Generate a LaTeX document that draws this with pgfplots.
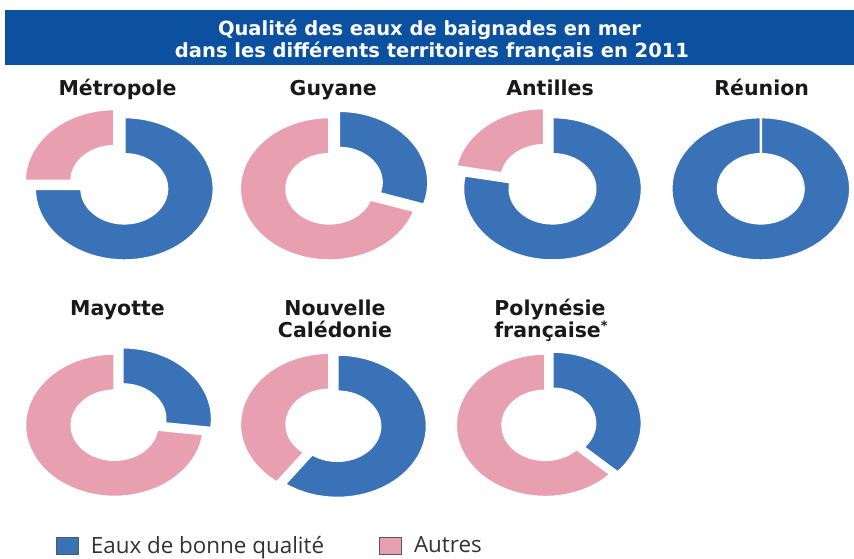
\documentclass[border=0pt]{standalone}
\usepackage{pgfplots}
\pgfplotsset{compat=1.18}
\usepackage{fontspec}
\setmainfont{Open Sans}
\newfontfamily\dejavu{DejaVu Sans}
\definecolor{banner}{RGB}{12,80,160}
\definecolor{dblue}{RGB}{58,114,184}
\definecolor{dpink}{RGB}{232,160,177}
\definecolor{legtext}{RGB}{50,50,50}
% ring radii (pixels); outline is white, 2.4pt wide
\def\OutX{89.5}\def\OutY{71.7}\def\InX{42.8}\def\InY{34.6}
% #1 cx, #2 cy, #3 start angle, #4 end angle (clockwise from top), #5 dx, #6 dy, #7 colour
\newcommand{\slice}[7]{%
  \addplot[forget plot, fill=#7, draw=white, line width=2.4pt, domain=0:120, samples=121, variable=\t]
  ({#1+(#5)+((\t<60.5) ? \OutX : \InX)*sin((\t<60.5) ? ((#3)+((#4)-(#3))*\t/60) : ((#4)-((#4)-(#3))*(\t-61)/59))},
   {#2+(#6)-((\t<60.5) ? \OutY : \InY)*cos((\t<60.5) ? ((#3)+((#4)-(#3))*\t/60) : ((#4)-((#4)-(#3))*(\t-61)/59))}) -- cycle;
}
% #1 cx, #2 cy, #3 share of good quality (%), #4 #5 shift of blue, #6 #7 shift of pink
\newcommand{\donut}[7]{%
  \slice{#1}{#2}{0}{3.6*#3}{#4}{#5}{dblue}
  \slice{#1}{#2}{3.6*#3}{360}{#6}{#7}{dpink}
}
\begin{document}
\begin{tikzpicture}
\begin{axis}[
  width=854pt, height=559pt, scale only axis,
  xmin=0, xmax=854, ymin=0, ymax=559, y dir=reverse,
  hide axis, clip=false,
  legend columns=2,
  legend image code/.code={\draw[#1, draw=black!65, line width=0.9pt] (0pt,-8.5pt) rectangle (22pt,8.5pt);},
  legend style={at={(axis cs:56,545.5)}, anchor=west, draw=none, fill=none,
    inner sep=0pt, outer sep=0pt,
    font=\fontsize{22.4}{26}\selectfont\color{legtext},
    nodes={inner sep=0pt, anchor=west},
    /tikz/every odd column/.append style={column sep=12pt},
    /tikz/every even column/.append style={column sep=55pt}},
]
\path (axis cs:0,0) rectangle (axis cs:854,559);
% title banner
\fill[banner] (axis cs:5,10) rectangle (axis cs:854,65);
\node[anchor=base, text=white, font=\dejavu\bfseries\fontsize{19.5}{22}\selectfont] at (axis cs:429.5,36) {Qualité des eaux de baignades en mer};
\node[anchor=base, text=white, font=\dejavu\bfseries\fontsize{19.5}{22}\selectfont] at (axis cs:432,57.5) {dans les différents territoires français en 2011};

% donuts: share of "Eaux de bonne qualité" in %
\donut{124.3}{188.8}{75}{0}{0}{-10}{-8}      % Métropole
\donut{329.3}{188.8}{30}{9.5}{-6.3}{0}{0}   % Guyane
\donut{552.5}{188.8}{78}{0}{0}{-8.5}{-9}     % Antilles
\slice{760.8}{188.8}{0}{360}{0}{0}{dblue}    % Réunion (100 %)
\donut{114.5}{425.2}{27}{8}{-6.2}{0}{0}      % Mayotte
\donut{337.4}{426.2}{60}{0}{0}{-8}{-1.8}     % Nouvelle Calédonie
\donut{545.3}{425.3}{37}{7}{-2}{0}{0}        % Polynésie française

% labels
\tikzset{lab/.style={anchor=base, text=black!90, font=\dejavu\bfseries\fontsize{20.5}{24}\selectfont}}
\node[lab] at (axis cs:117.5,96) {Métropole};
\node[lab] at (axis cs:333.3,96) {Guyane};
\node[lab] at (axis cs:550,96) {Antilles};
\node[lab] at (axis cs:761.7,96) {Réunion};
\node[lab] at (axis cs:117.5,315) {Mayotte};
\node[lab] at (axis cs:335,315) {Nouvelle};
\node[lab] at (axis cs:335,337.7) {Calédonie};
\node[lab] at (axis cs:550,315) {Polynésie};
\node[lab] at (axis cs:551,337.7) {française\raisebox{0.35em}{\fontsize{13}{14}\selectfont *}};

\addlegendimage{fill=dblue}
\addlegendentry{Eaux de bonne qualité}
\addlegendimage{fill=dpink}
\addlegendentry{Autres}
\end{axis}
\end{tikzpicture}
\end{document}
